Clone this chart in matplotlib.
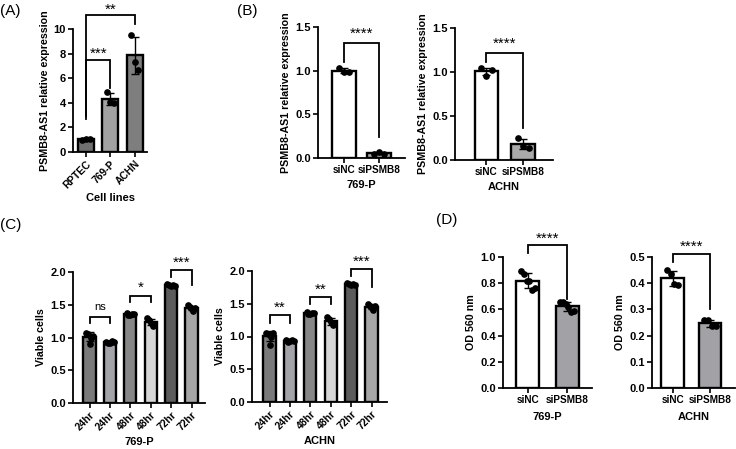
import matplotlib
matplotlib.use("Agg")
import matplotlib.pyplot as plt
import numpy as np

plt.rcParams['font.family'] = ['Liberation Sans', 'DejaVu Sans']
plt.rcParams['font.weight'] = 'bold'

# ---------------- data ----------------
a_cats = ["RPTEC", "769-P", "ACHN"]
a_points = [[1.00, 1.05, 1.03], [4.90, 4.10, 4.00], [9.55, 7.35, 6.65]]
a_colors = ["#707070", "#a2a2a2", "#7e7e7e"]

b_cats = ["siNC", "siPSMB8"]
b1_points = [[1.03, 0.98, 0.99], [0.05, 0.065, 0.05]]
b2_points = [[1.04, 0.96, 1.02], [0.245, 0.16, 0.14]]
b_colors = ["#ffffff", "#a9a9a9"]

c_cats = ["24hr", "24hr", "48hr", "48hr", "72hr", "72hr"]
c1_points = [[1.07, 1.05, 0.90, 1.00, 1.03],
             [0.93, 0.91, 0.92, 0.94, 0.93],
             [1.37, 1.35, 1.34, 1.36, 1.36],
             [1.30, 1.27, 1.22, 1.18, 1.21],
             [1.81, 1.80, 1.79, 1.80, 1.78],
             [1.49, 1.47, 1.44, 1.40, 1.45]]
c2_points = [[1.06, 1.04, 0.87, 1.00, 1.05],
             [0.94, 0.92, 0.93, 0.95, 0.93],
             [1.38, 1.35, 1.34, 1.36, 1.36],
             [1.30, 1.26, 1.22, 1.17, 1.20],
             [1.81, 1.80, 1.79, 1.80, 1.78],
             [1.50, 1.47, 1.44, 1.40, 1.46]]
c_colors = ["#7a7a7a", "#a3a3aa", "#878787", "#d6d6d6", "#5c5c5c", "#a6a6a6"]

d_cats = ["siNC", "siPSMB8"]
d1_points = [[0.89, 0.87, 0.82, 0.82, 0.75, 0.76], [0.66, 0.66, 0.64, 0.62, 0.58, 0.59]]
d2_points = [[0.449, 0.436, 0.396, 0.392], [0.26, 0.258, 0.235, 0.235]]
d_colors = ["#ffffff", "#a2a2a6"]

W, H = 736, 449
fig = plt.figure(figsize=(W / 100, H / 100), dpi=100)


def add_ax(x0, x1, ytop, ybot):
    return fig.add_axes([x0 / W, 1 - ybot / H, (x1 - x0) / W, (ybot - ytop) / H])


def spread(n, w):
    if n == 1:
        return np.array([0.0])
    return np.linspace(-w, w, n)


def bar_panel(ax, cats, points, colors, width, ylim, yticks, yfmt, xlim,
              rot=0, ylabel=None, xlabel=None, xlabelpad=2, ms=3.8, spreadw=0.15,
              xtick_fs=7.4):
    x = np.arange(len(cats))
    means = [np.mean(p) for p in points]
    sds = [np.std(p, ddof=1) for p in points]
    ax.bar(x, means, width=width, color=colors, edgecolor='black', linewidth=1.7, zorder=2)
    ax.errorbar(x, means, yerr=sds, fmt='none', ecolor='black', elinewidth=1.0,
                capsize=3, capthick=1.0, zorder=4)
    for i, p in enumerate(points):
        ax.plot(x[i] + spread(len(p), spreadw), p, 'o', color='black', ms=ms, zorder=5,
                clip_on=False)
    ax.set_xlim(*xlim)
    ax.set_ylim(*ylim)
    ax.set_yticks(yticks)
    ax.set_yticklabels([yfmt.format(v) for v in yticks])
    ax.set_xticks(x)
    if rot:
        ax.set_xticklabels(cats, rotation=rot, ha='right', rotation_mode='anchor')
    else:
        ax.set_xticklabels(cats)
    for s in ['top', 'right']:
        ax.spines[s].set_visible(False)
    for s in ['left', 'bottom']:
        ax.spines[s].set_linewidth(1.3)
    ax.tick_params(axis='both', width=1.2, length=3.5, pad=1.5)
    ax.tick_params(axis='y', labelsize=8)
    ax.tick_params(axis='x', labelsize=xtick_fs)
    ax.patch.set_alpha(0)
    if ylabel:
        ax.set_ylabel(ylabel, fontsize=7.7, fontweight='bold', labelpad=3)
    if xlabel:
        ax.set_xlabel(xlabel, fontsize=8, fontweight='bold', labelpad=xlabelpad)


def bracket(ax, x1, x2, ytop, yl1, yl2, text, ty, fs=11):
    ax.plot([x1, x1, x2, x2], [yl1, ytop, ytop, yl2], color='black', lw=1.3,
            clip_on=False, zorder=6, solid_joinstyle='miter')
    ax.text((x1 + x2) / 2, ty, text, ha='center', va='center', fontsize=fs,
            fontweight='normal', clip_on=False)


# ---------------- panel A ----------------
axA = add_ax(73, 147, 29, 152)
bar_panel(axA, a_cats, a_points, a_colors, 0.65, (0, 10), [0, 2, 4, 6, 8, 10], "{:.0f}",
          (-0.53, 2.5), rot=45, ylabel="PSMB8-AS1 relative expression",
          xlabel="Cell lines", xlabelpad=2)
bracket(axA, 0, 1, 7.5, 2.7, 5.2, "***", 7.95)
bracket(axA, 0, 2, 11.1, 2.9, 10.4, "**", 11.55)

# ---------------- panel B ----------------
axB1 = add_ax(318, 405, 27, 158)
bar_panel(axB1, b_cats, b1_points, b_colors, 0.69, (0, 1.5), [0, 0.5, 1.0, 1.5], "{:.1f}",
          (-0.76, 1.76), ylabel="PSMB8-AS1 relative expression", xlabel="769-P",
          xlabelpad=3.5, xtick_fs=7.2)
bracket(axB1, 0, 1, 1.32, 1.10, 0.24, "****", 1.42)

axB2 = add_ax(455, 553, 28, 160)
bar_panel(axB2, b_cats, b2_points, b_colors, 0.64, (0, 1.5), [0, 0.5, 1.0, 1.5], "{:.1f}",
          (-0.85, 1.81), ylabel="PSMB8-AS1 relative expression", xlabel="ACHN",
          xlabelpad=3.5, xtick_fs=7.2)
bracket(axB2, 0, 1, 1.22, 1.11, 0.36, "****", 1.32)

# ---------------- panel C ----------------
axC1 = add_ax(73, 205, 272, 403)
bar_panel(axC1, c_cats, c1_points, c_colors, 0.6, (0, 2.0), [0, 0.5, 1.0, 1.5, 2.0], "{:.1f}",
          (-0.81, 5.66), rot=45, ylabel="Viable cells", xlabel="769-P", xlabelpad=3,
          spreadw=0.18)
bracket(axC1, 0, 1, 1.32, 1.22, 1.22, "ns", 1.47, fs=8)
bracket(axC1, 2, 3, 1.64, 1.54, 1.54, "*", 1.76)
bracket(axC1, 4, 5, 2.03, 1.92, 1.80, "***", 2.14)

axC2 = add_ax(252, 387, 271, 402)
bar_panel(axC2, c_cats, c2_points, c_colors, 0.6, (0, 2.0), [0, 0.5, 1.0, 1.5, 2.0], "{:.1f}",
          (-0.86, 5.76), rot=45, ylabel="Viable cells", xlabel="ACHN", xlabelpad=3,
          spreadw=0.18)
bracket(axC2, 0, 1, 1.33, 1.20, 1.20, "**", 1.44)
bracket(axC2, 2, 3, 1.60, 1.50, 1.50, "**", 1.71)
bracket(axC2, 4, 5, 2.03, 1.92, 1.75, "***", 2.14)

# ---------------- panel D ----------------
axD1 = add_ax(503, 592, 257, 388)
bar_panel(axD1, d_cats, d1_points, d_colors, 0.59, (0, 1.0), [0, 0.2, 0.4, 0.6, 0.8, 1.0],
          "{:.1f}", (-0.64, 1.64), ylabel="OD 560 nm", xlabel="769-P", spreadw=0.17,
          xlabelpad=5, xtick_fs=7.2)
bracket(axD1, 0, 1, 1.09, 1.03, 0.68, "****", 1.14)

axD2 = add_ax(652, 735, 257, 388)
bar_panel(axD2, d_cats, d2_points, d_colors, 0.6, (0, 0.5), [0, 0.1, 0.2, 0.3, 0.4, 0.5],
          "{:.1f}", (-0.55, 1.67), ylabel="OD 560 nm", xlabel="ACHN", spreadw=0.15,
          xlabelpad=5, xtick_fs=7.2)
bracket(axD2, 0, 1, 0.513, 0.48, 0.30, "****", 0.538)

# ---------------- panel labels ----------------
for lab, x, y in [("(A)", 0, 11), ("(B)", 237, 11), ("(C)", 0, 225), ("(D)", 436, 220)]:
    fig.text(x / W, 1 - y / H, lab, fontsize=11, fontweight='normal', va='center', ha='left')

fig.savefig("out.png", dpi=100)
